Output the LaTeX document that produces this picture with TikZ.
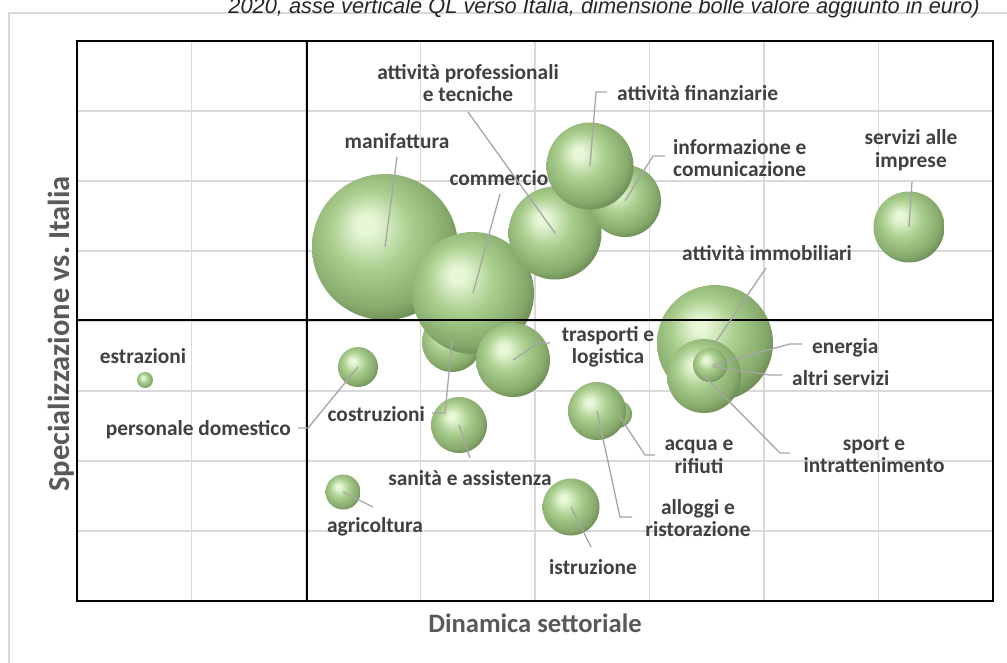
\documentclass[tikz,border=0pt]{standalone}
\usepackage{fontspec}
\setmainfont{Carlito}
\newfontfamily\capfont{Liberation Sans}
\definecolor{bubhl}{HTML}{E8F7D8}
\definecolor{bubmid}{HTML}{A8CD8C}
\definecolor{bubdk}{HTML}{87AA6C}
\definecolor{bubrim}{HTML}{4F6B3D}
\definecolor{gridc}{HTML}{D9D9D9}
\definecolor{leadc}{HTML}{A6A6A6}
\definecolor{labc}{HTML}{404040}
\definecolor{titc}{HTML}{595959}
\pgfdeclareradialshading{bubshade}{\pgfpoint{-7bp}{8bp}}{color(0bp)=(bubhl); color(3bp)=(bubhl); color(14bp)=(bubmid); color(25bp)=(bubdk); color(34bp)=(bubrim); color(50bp)=(bubrim)}
\begin{document}
\begin{tikzpicture}[x=1pt,y=-1pt,
  bub/.style={circle,inner sep=0pt,shading=bubshade,minimum size=#1},
  lead/.style={draw=leadc,line width=1.3pt},
  lab/.style={text=labc,font=\bfseries\fontsize{21.4}{22.5}\selectfont,align=center,inner sep=0pt},
  axt/.style={text=titc,font=\bfseries\fontsize{26.6}{28}\selectfont,inner sep=0pt},
  gridl/.style={draw=gridc,line width=1.5pt}]
\useasboundingbox (0,0) rectangle (1007,662);
\clip (0,0) rectangle (1007,662);
% outer frame
\draw[draw=gridc,line width=1.5pt] (9,13) rectangle (1030,690);
% caption
\node[anchor=base east,inner sep=0pt,text=black!85,font=\capfont\itshape\fontsize{21.8}{23}\selectfont] (cap) at (980,13) {2020, asse verticale QL verso Italia, dimensione bolle valore aggiunto in euro)};
% grid
\foreach \k in {1,...,7} {\draw[gridl] (77+114.5*\k,41) -- (77+114.5*\k,601);}
\foreach \k in {1,...,7} {\draw[gridl] (77,41+70*\k) -- (993,41+70*\k);}
% bubbles
\node[bub=146pt] (manif) at (385,247) {};
\node[bub=60pt] (costr) at (452,342) {};
\node[bub=122pt] (comm) at (473,293) {};
\node[bub=74pt] (trasp) at (513,360) {};
\node[bub=93pt] (prof) at (555,233) {};
\node[bub=72pt] (info) at (625,201) {};
\node[bub=87pt] (fin) at (590,166) {};
\node[bub=116pt] (immob) at (715,343) {};
\node[bub=74pt] (sport) at (704,376) {};
\node[bub=34pt] (altri) at (710,365) {};
\node[bub=28pt] (acqua) at (618,414) {};
\node[bub=58pt] (allog) at (597,411) {};
\node[bub=56pt] (san) at (459,425) {};
\node[bub=57pt] (istr) at (571,507) {};
\node[bub=71pt] (serv) at (909,227) {};
\node[bub=40pt] (pers) at (358,367) {};
\node[bub=35pt] (agri) at (343,492) {};
\node[bub=16pt] (estr) at (145,380) {};
% plot border and quadrant axes
\draw[line width=2.2pt] (77,41) rectangle (993,601);
\draw[line width=2.2pt] (307,41) -- (307,601);
\draw[line width=2.2pt] (77,320) -- (993,320);
% labels
\node[lab] (lmanif) at (397,141) {manifattura};
\node[lab] (lcomm) at (499,178) {commercio};
\node[lab] (lprof) at (468,83) {attività professionali\\e tecniche};
\node[lab,anchor=west] (lfin) at (617,93) {attività finanziarie};
\node[lab,anchor=west,align=left] (linfo) at (673,158) {informazione e\\comunicazione};
\node[lab] (lserv) at (911,150) {servizi alle\\imprese};
\node[lab] (limmob) at (767,253) {attività immobiliari};
\node[lab] (ltrasp) at (608,347) {trasporti e\\logistica};
\node[lab,anchor=west] (lener) at (812,348) {energia};
\node[lab,anchor=west] (laltri) at (792,378) {altri servizi};
\node[lab] (lsport) at (874,455) {sport e\\intrattenimento};
\node[lab] (lacqua) at (699,457) {acqua e\\rifiuti};
\node[lab] (lallog) at (698,518) {alloggi e\\ristorazione};
\node[lab] (listr) at (593,567) {istruzione};
\node[lab] (lsan) at (470,478) {sanità e assistenza};
\node[lab,anchor=east] (lcostr) at (425,414) {costruzioni};
\node[lab,anchor=east] (lpers) at (291,430) {personale domestico};
\node[lab] (lagri) at (375,527) {agricoltura};
\node[lab] (lestr) at (143,356) {estrazioni};
% leader end points
\coordinate (emanif) at (397,157);
\coordinate (ecomm) at (500,194);
\coordinate (eprof) at (468,112);
\coordinate (efin) at (607,92);
\coordinate (einfo) at (665,156);
\coordinate (eserv) at (912,182);
\coordinate (eimmob) at (766,268);
\coordinate (etrasp) at (550,343);
\coordinate (eener) at (802,344);
\coordinate (ealtri) at (782,375);
\coordinate (esport) at (790,453);
\coordinate (eacqua) at (655,455);
\coordinate (eallog) at (632,517);
\coordinate (eistr) at (591,547);
\coordinate (esan) at (470,458);
\coordinate (ecostr) at (432,413);
\coordinate (epers) at (298,428);
\coordinate (eagri) at (373,507);
% leaders
\draw[lead] (manif.center) -- (emanif);
\draw[lead] (comm.center) -- (ecomm);
\draw[lead] (prof.center) -- (eprof);
\draw[lead] (fin.center) -- (596,92) -- (efin);
\draw[lead] (info.center) -- (653,156) -- (einfo);
\draw[lead] (serv.center) -- (eserv);
\draw[lead] (immob.center) -- (eimmob);
\draw[lead] (trasp.center) -- (538,343) -- (etrasp);
\draw[lead] ([xshift=3pt]altri.center) -- (790,344) -- (eener);
\draw[lead] ([xshift=3pt,yshift=-2pt]altri.center) -- (770,375) -- (ealtri);
\draw[lead] (sport.center) -- (780,453) -- (esport);
\draw[lead] (acqua.center) -- (645,455) -- (eacqua);
\draw[lead] (allog.center) -- (620,517) -- (eallog);
\draw[lead] (istr.center) -- (eistr);
\draw[lead] (san.center) -- (esan);
\draw[lead] (costr.center) -- (445,413) -- (ecostr);
\draw[lead] (pers.center) -- (308,428) -- (epers);
\draw[lead] (agri.center) -- (eagri);
% axis titles
\node[axt] (xtit) at (535,623) {Dinamica settoriale};
\node[axt,rotate=90,font=\bfseries\fontsize{30.5}{32}\selectfont] (ytit) at (61,334) {Specializzazione vs.\ Italia};
\end{tikzpicture}
\end{document}
